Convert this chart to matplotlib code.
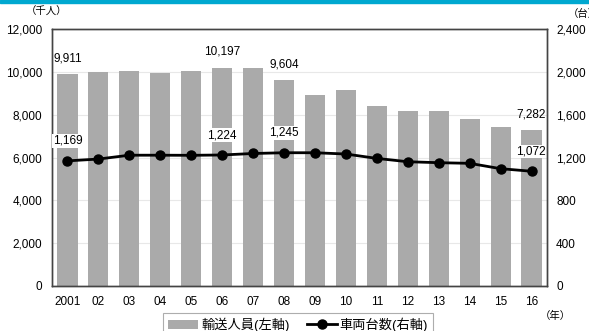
import matplotlib.pyplot as plt
import numpy as np

plt.rcParams['font.family'] = ['Liberation Sans', 'Noto Sans CJK JP', 'DejaVu Sans']

# data
years = ['2001', '02', '03', '04', '05', '06', '07', '08',
         '09', '10', '11', '12', '13', '14', '15', '16']
passengers = [9911, 10005, 10040, 9945, 10055, 10197, 10165, 9604,
              8904, 9166, 8418, 8185, 8170, 7783, 7440, 7282]
vehicles = [1169, 1186, 1222, 1222, 1221, 1224, 1238, 1245,
            1245, 1233, 1192, 1161, 1152, 1146, 1096, 1072]
bar_labels = {0: '9,911', 5: '10,197', 7: '9,604', 15: '7,282'}
line_labels = {0: '1,169', 5: '1,224', 7: '1,245', 15: '1,072'}

fig = plt.figure(figsize=(5.89, 3.31), dpi=100)
ax1 = fig.add_axes([0.0883, 0.136, 0.8404, 0.776])
x = np.arange(len(years))

# top cyan band
fig.patches.append(plt.Rectangle((0, 0.99), 1, 0.01, transform=fig.transFigure,
                                 color='#00a8d0', zorder=0))

ax1.bar(x, passengers, width=0.65, color='#aaaaaa', label='輸送人員(左軸)', zorder=2)
ax1.set_ylim(0, 12000)
ax1.set_yticks(range(0, 12001, 2000))
ax1.set_yticklabels([f'{v:,}' for v in range(0, 12001, 2000)])
ax1.set_xlim(-0.5, len(years) - 0.5)
ax1.set_xticks(x)
ax1.set_xticklabels(years)
ax1.grid(axis='y', color='#e8e8e8', linewidth=0.8, zorder=0)
ax1.set_axisbelow(True)
ax1.tick_params(length=0, labelsize=8.5, pad=7)
for s in ax1.spines.values():
    s.set_color('#444444')
    s.set_linewidth(1.0)

ax2 = ax1.twinx()
ax2.plot(x, vehicles, color='black', linewidth=2, marker='o', markersize=6.5,
         label='車両台数(右軸)', zorder=3)
ax2.set_ylim(0, 2400)
ax2.set_yticks(range(0, 2401, 400))
ax2.set_yticklabels([f'{v:,}' for v in range(0, 2401, 400)])
ax2.tick_params(length=0, labelsize=8.5, pad=6.5)
for s in ax2.spines.values():
    s.set_color('#444444')
    s.set_linewidth(1.0)

# value labels
for i, t in bar_labels.items():
    ha = 'right' if i == len(years) - 1 else 'center'
    dx = 0.45 if i == len(years) - 1 else 0
    ax1.annotate(t, (x[i] + dx, passengers[i]), xytext=(0, 7), textcoords='offset points',
                 ha=ha, va='bottom', fontsize=8.5)
for i, t in line_labels.items():
    ha = 'right' if i == len(years) - 1 else 'center'
    dx = 0.45 if i == len(years) - 1 else 0
    ax2.annotate(t, (x[i] + dx, vehicles[i]), xytext=(0, 10), textcoords='offset points',
                 ha=ha, va='bottom', fontsize=8.5,
                 bbox=dict(facecolor='white', edgecolor='none', pad=0.5))

# unit labels
fig.text(47 / 589, 1 - 12 / 331, '（千人）', ha='center', va='center', fontsize=7.5)
fig.text(568 / 589, 1 - 14 / 331, '（台）', ha='left', va='center', fontsize=7.5)
fig.text(555 / 589, 1 - 316 / 331, '（年）', ha='center', va='center', fontsize=7.5)

# legend
h1, l1 = ax1.get_legend_handles_labels()
h2, l2 = ax2.get_legend_handles_labels()
leg = fig.legend(h1 + h2, l1 + l2, loc='upper center', bbox_to_anchor=(298 / 589, 1 - 313 / 331),
                 ncol=2, fontsize=9.5, frameon=True, fancybox=False, handlelength=2.3,
                 columnspacing=1.3, borderpad=0.35, handletextpad=0.2, borderaxespad=0)
leg.get_frame().set_edgecolor('#999999')
leg.get_frame().set_linewidth(0.8)

fig.savefig('out.png', dpi=100)
